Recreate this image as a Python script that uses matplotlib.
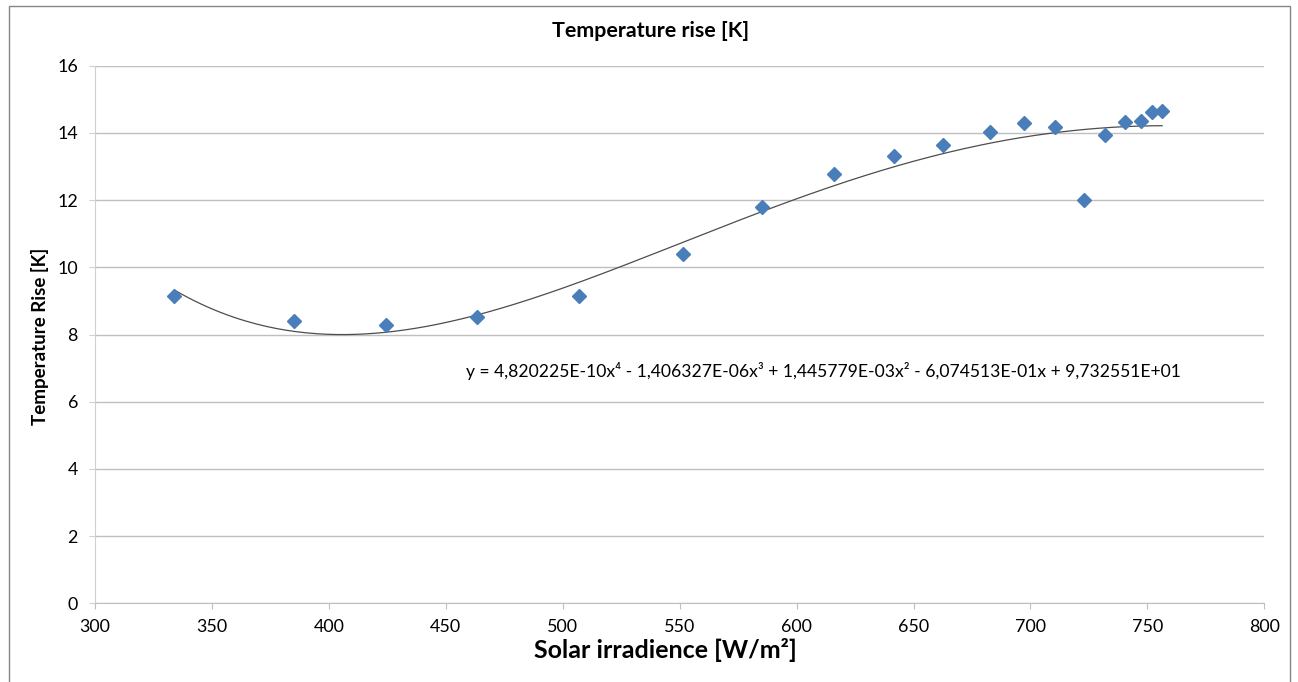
import matplotlib
matplotlib.use("Agg")
import matplotlib.pyplot as plt
from matplotlib.patches import Rectangle
import numpy as np

irradiance = [333.9, 385.1, 424.3, 463.2, 506.9, 551.3, 585.4, 615.8, 641.8, 662.7,
              682.6, 697.3, 710.4, 722.8, 732.0, 740.5, 747.4, 751.8, 756.3]
temp_rise = [9.15, 8.40, 8.28, 8.51, 9.15, 10.40, 11.79, 12.77, 13.31, 13.64,
             14.04, 14.30, 14.17, 12.01, 13.94, 14.32, 14.35, 14.62, 14.64]

# 4th order trendline coefficients as printed on the chart
trend_coef = [4.820225e-10, -1.406327e-06, 1.445779e-03, -6.074513e-01, 9.732551e+01]
trend_label = ("y = 4,820225E-10x⁴ - 1,406327E-06x³ + 1,445779E-03x² "
               "- 6,074513E-01x + 9,732551E+01")

x_ticks = list(range(300, 801, 50))
y_ticks = list(range(0, 17, 2))

W, H = 1298, 682
FONT = ["Lato", "DejaVu Sans"]
plt.rcParams["font.family"] = FONT

fig = plt.figure(figsize=(W / 100, H / 100), dpi=100)
ax = fig.add_axes([95 / W, 1 - 603.3 / H, (1264.3 - 95) / W, (603.3 - 65.7) / H])

# outer chart frame (bottom edge is cut off in the original screenshot)
fig.patches.append(Rectangle((9 / W, -0.01), (1290 - 9) / W, 1 - 6 / H + 0.01,
                             transform=fig.transFigure, fill=False,
                             edgecolor="#868686", linewidth=1.0))

xs = np.linspace(min(irradiance), max(irradiance), 300)
ax.plot(xs, np.polyval(trend_coef, xs), color="#4d4d4d", linewidth=0.9, zorder=2)
ax.plot(irradiance, temp_rise, linestyle="none", marker="D", markersize=7,
        color="#4a7ebb", markeredgecolor="#4a7ebb", zorder=3)

ax.set_xlim(300, 800)
ax.set_ylim(0, 16)
ax.set_xticks(x_ticks)
ax.set_yticks(y_ticks)
ax.grid(axis="y", color="#bfbfbf", linewidth=1.0)
ax.set_axisbelow(True)
for side in ["top", "right"]:
    ax.spines[side].set_visible(False)
ax.spines["left"].set_color("#d0d0d0")
ax.spines["bottom"].set_color("#bfbfbf")

title = fig.text(651 / W, 1 - 31 / H, "Temperature rise [K]", fontsize=15,
                 fontweight="bold", ha="center", va="center")
xlab = fig.text(665 / W, 1 - 650 / H, "Solar irradience [W/m²]", fontsize=16,
                fontweight="bold", ha="center", va="center")
ylab = fig.text(40 / W, 1 - 336 / H, "Temperature Rise [K]", fontsize=15,
                fontweight="bold", ha="center", va="center", rotation=90)
eq = ax.text(458.6, 6.73, trend_label, fontsize=12.5, va="baseline", ha="left",
             family=FONT)
probe = fig.text(0, 0, "800", fontsize=12.5)

# scale the fonts so the text widths match the original (Calibri is not installed)
renderer = fig.canvas.get_renderer()
def fit(t, target_px, vertical=False):
    bb = t.get_window_extent(renderer)
    size = bb.height if vertical else bb.width
    t.set_fontsize(t.get_fontsize() * target_px / size)

fit(title, 197)
fit(xlab, 264)
fit(ylab, 178, vertical=True)
fit(eq, 716)
fit(probe, 31)
tick_size = probe.get_fontsize()
probe.remove()

ax.tick_params(axis="x", direction="out", length=4.3, color="#bfbfbf",
               labelsize=tick_size, pad=7)
ax.tick_params(axis="y", direction="out", length=4.3, color="#d0d0d0",
               labelsize=tick_size, pad=8)

fig.savefig("out.png", dpi=100)
